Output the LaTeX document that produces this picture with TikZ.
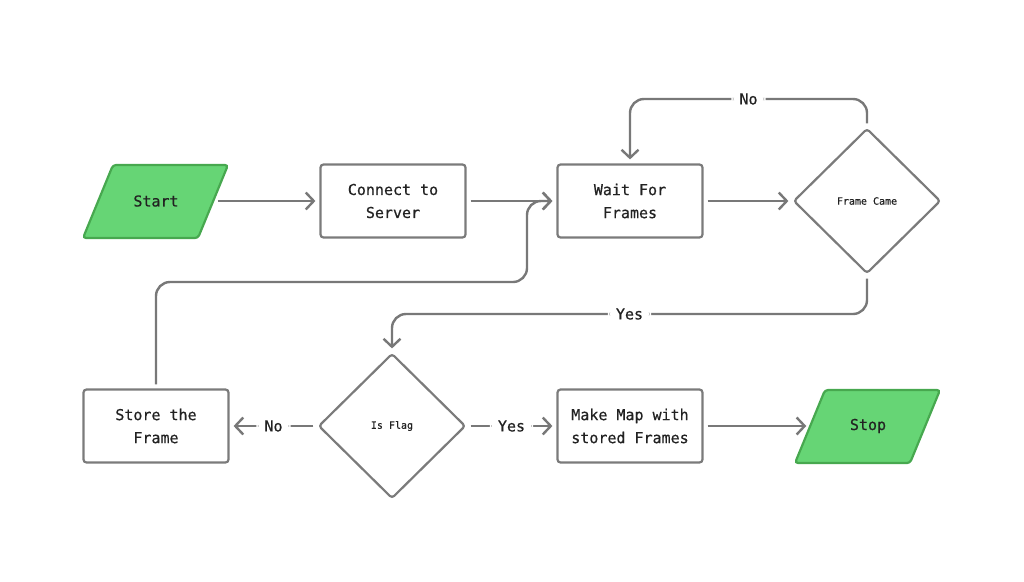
\documentclass[tikz,border=0pt]{standalone}
\usepackage{fontspec}
\setmonofont[BoldFont={DejaVu Sans Mono},BoldFeatures={FakeBold=0.6}]{DejaVu Sans Mono}
\usetikzlibrary{arrows.meta,shapes.geometric}
\definecolor{linegray}{HTML}{787878}
\definecolor{boxgray}{HTML}{7B7B7B}
\definecolor{gfill}{HTML}{66D575}
\definecolor{gdraw}{HTML}{47A84F}
\definecolor{txt}{HTML}{222222}
\begin{document}
\begin{tikzpicture}[x=1pt,y=-1pt,
  conn/.style={draw=linegray, line width=2.4pt, -{Straight Barb[length=8pt,width=17pt,line width=2.4pt]}, shorten >=4pt, shorten <=4pt, rounded corners=14pt},
  box/.style={draw=boxgray, line width=2.2pt, rounded corners=3pt, minimum width=145pt, minimum height=73pt, align=center, font=\ttfamily\bfseries\fontsize{15}{23}\selectfont, text=txt, inner sep=0pt},
  paratext/.style={minimum width=115pt, minimum height=73pt, font=\ttfamily\bfseries\fontsize{15}{23}\selectfont, text=txt, inner sep=0pt},
  parashape/.style={draw=gdraw, fill=gfill, line width=2.2pt, rounded corners=3pt},
  dia/.style={diamond, draw=boxgray, line width=2.2pt, minimum width=147pt, minimum height=145pt, rounded corners=3pt, font=\ttfamily\bfseries\fontsize{10}{12}\selectfont, text=txt, inner sep=0pt},
  lbl/.style={fill=white, font=\ttfamily\bfseries\fontsize{15}{17}\selectfont, text=txt, inner xsep=8pt, inner ysep=2pt}]
\useasboundingbox (0,0) rectangle (1024,581);
% Start parallelogram
\draw[parashape] (113,165) -- (228,165) -- (198,238) -- (83,238) -- cycle;
\node[paratext] (start) at (156,201) {Start};
\node[box] (connect) at (393,201) {Connect to\\Server};
\node[box] (wait) at (630,201) {Wait For\\Frames};
\node[dia] (came) at (867,201) {Frame Came};
\node[box] (store) at (156,426) {Store the\\Frame};
\node[dia] (flag) at (392,426) {Is Flag};
\node[box] (make) at (630,426) {Make Map with\\stored Frames};
% Stop parallelogram
\draw[parashape] (825,390) -- (940,390) -- (910,463) -- (795,463) -- cycle;
\node[paratext] (stop) at (868,426) {Stop};

\draw[conn] (start) -- (connect);
\draw[conn] (connect) -- (wait);
\draw[conn] (wait) -- (came);
\draw[conn] (came.north) -- (867,99) -- node[lbl] (no1) {No} (630,99) -- (wait.north);
\draw[conn] (came.south) -- (867,314) -- node[lbl] (yes1) {Yes} (392,314) -- (flag.north);
\draw[conn] (store.north) -- (156,282) -- (527,282) -- (527,201) -- (wait.west);
\draw[conn] (flag.west) -- node[lbl] (no2) {No} (store.east);
\draw[conn] (flag.east) -- node[lbl] (yes2) {Yes} (make.west);
\draw[conn] (make) -- (stop);
\end{tikzpicture}
\end{document}
